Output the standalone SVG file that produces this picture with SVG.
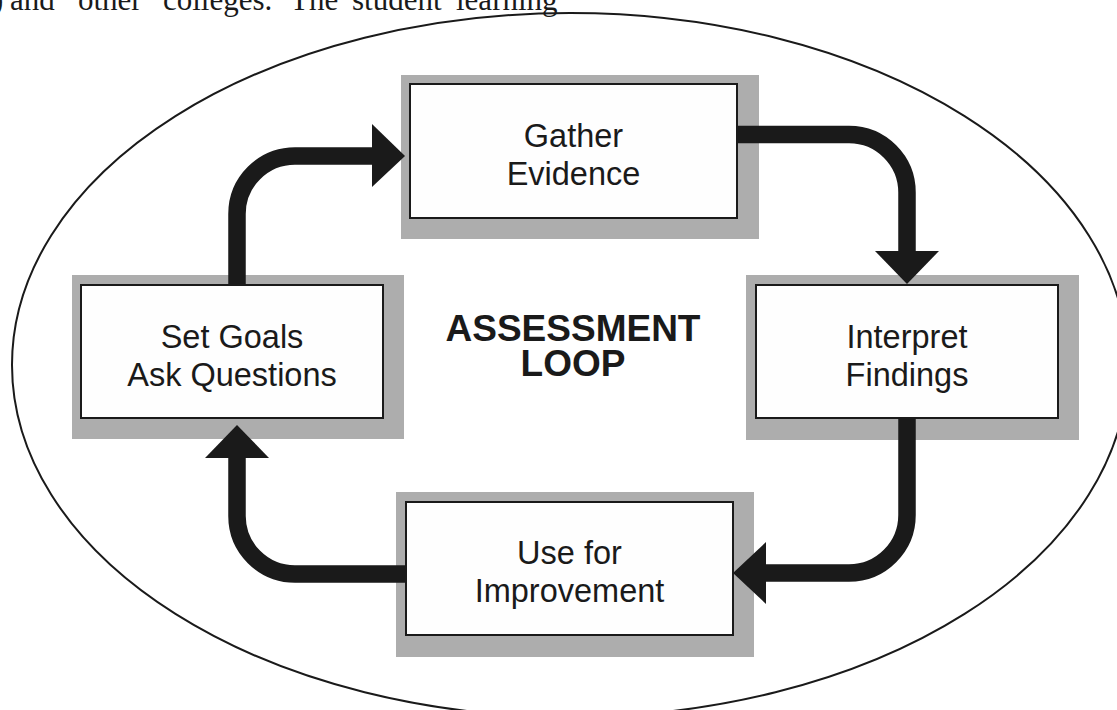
<svg xmlns="http://www.w3.org/2000/svg" width="1117" height="710" viewBox="0 0 1117 710">
  <style>
    .body { font-family: "Liberation Serif", "Times New Roman", serif; font-size: 31px; fill: #1a1a1a; }
    .shade { fill: #adadad; }
    .card { fill: #fefefe; stroke: #1a1a1a; stroke-width: 2; }
    .label { font-family: "Liberation Sans", Arial, sans-serif; font-size: 32.5px; fill: #1a1a1a; text-anchor: middle; }
    .title { font-family: "Liberation Sans", Arial, sans-serif; font-size: 37px; font-weight: bold; fill: #1a1a1a; text-anchor: middle; }
    .flow { fill: none; stroke: #1a1a1a; stroke-width: 17.5; }
    .head { fill: #1a1a1a; }
  </style>

  <rect width="1117" height="710" fill="#ffffff"/>

  <!-- running text line from the page above -->
  <g id="page-text" class="body">
    <text x="-7" y="9.5">)</text>
    <text x="10" y="9.5">and</text>
    <text x="78" y="9.5">other</text>
    <text x="163" y="9.5">colleges.</text>
    <text x="290" y="9.5">The</text>
    <text x="352" y="9.5">student</text>
    <text x="456" y="9.5">learning</text>
  </g>

  <!-- enclosing ellipse -->
  <ellipse id="boundary" cx="570" cy="365" rx="558" ry="352" fill="none" stroke="#1a1a1a" stroke-width="2"/>

  <g id="node-gather">
    <rect class="shade" x="401" y="75" width="358" height="164"/>
    <rect class="card" x="410" y="84" width="327" height="134"/>
    <text class="label" x="573.5" y="146.5">Gather</text>
    <text class="label" x="573.5" y="184.5">Evidence</text>
  </g>

  <g id="node-interpret">
    <rect class="shade" x="746" y="275" width="333" height="165"/>
    <rect class="card" x="756" y="285" width="302" height="133"/>
    <text class="label" x="907" y="348">Interpret</text>
    <text class="label" x="907" y="386">Findings</text>
  </g>

  <g id="node-use">
    <rect class="shade" x="396" y="492" width="358" height="165"/>
    <rect class="card" x="406" y="502" width="327" height="133"/>
    <text class="label" x="569.5" y="564">Use for</text>
    <text class="label" x="569.5" y="602">Improvement</text>
  </g>

  <g id="node-goals">
    <rect class="shade" x="72" y="275" width="332" height="164"/>
    <rect class="card" x="81" y="285" width="302" height="133"/>
    <text class="label" x="232" y="348">Set Goals</text>
    <text class="label" x="232" y="386">Ask Questions</text>
  </g>

  <g id="center-title">
    <text class="title" x="573" y="341">ASSESSMENT</text>
    <text class="title" x="573" y="376">LOOP</text>
  </g>

  <!-- cycle connectors: rounded elbows with solid heads -->
  <g id="connectors">
    <path class="flow" d="M237,285 V214 A58,58 0 0 1 295,156 H373"/>
    <polygon class="head" points="372,124 405,156 372,187"/>

    <path class="flow" d="M737,134.5 H849 A58,58 0 0 1 907,192.5 V252"/>
    <polygon class="head" points="875,251 907,284 939,251"/>

    <path class="flow" d="M907,418 V515 A58,58 0 0 1 849,573 H765"/>
    <polygon class="head" points="766,542 733,573 766,604"/>

    <path class="flow" d="M406,574 H295 A58,58 0 0 1 237,516 V457"/>
    <polygon class="head" points="205,458 237,425 269,458"/>
  </g>
</svg>
